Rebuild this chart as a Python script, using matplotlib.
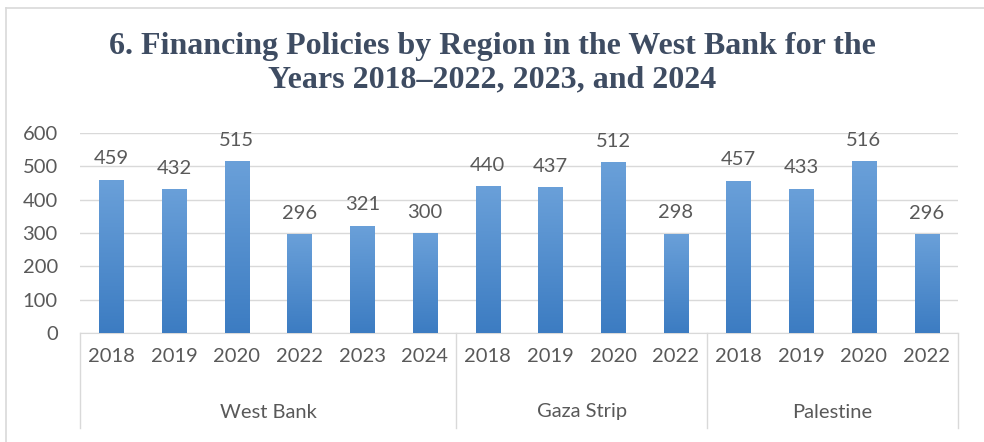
import matplotlib
matplotlib.use("Agg")
import matplotlib.pyplot as plt
import matplotlib.transforms as mtransforms
from matplotlib.lines import Line2D
from matplotlib.colors import LinearSegmentedColormap
import numpy as np

# ---- data ----
regions = ["West Bank", "Gaza Strip", "Palestine"]
west_bank_years = ["2018", "2019", "2020", "2022", "2023", "2024"]
west_bank_values = [459, 432, 515, 296, 321, 300]
gaza_years = ["2018", "2019", "2020", "2022"]
gaza_values = [440, 437, 512, 298]
palestine_years = ["2018", "2019", "2020", "2022"]
palestine_values = [457, 433, 516, 296]
title = "6. Financing Policies by Region in the West Bank for the\nYears 2018\u20132022, 2023, and 2024"
y_ticks = [0, 100, 200, 300, 400, 500, 600]

groups = [(regions[0], west_bank_years, west_bank_values),
          (regions[1], gaza_years, gaza_values),
          (regions[2], palestine_years, palestine_values)]

years = []
values = []
group_bounds = []
for name, yrs, vals in groups:
    start = len(years)
    years += yrs
    values += vals
    group_bounds.append((name, start, len(years)))

x = np.arange(len(values))

W, H = 984, 442
fig = plt.figure(figsize=(W / 100, H / 100), dpi=100)
fig.patch.set_facecolor("white")

L, R, B, T = 80, 958, 333, 133
ax = fig.add_axes([L / W, 1 - B / H, (R - L) / W, (B - T) / H])

text_color = "#595959"
font = "Lato"
fs = 14.5

bars = ax.bar(x, values, width=0.385, color="#4a88c9", zorder=3, linewidth=0)

# gradient fill per bar
grad = np.linspace(0, 1, 256).reshape(-1, 1)
cmap = LinearSegmentedColormap.from_list("g", ["#3c7cc2", "#6aa0d9"])
for b in bars:
    x0, y0 = b.get_x(), b.get_y()
    w, h = b.get_width(), b.get_height()
    im = ax.imshow(grad, extent=[x0, x0 + w, y0, y0 + h], origin="lower",
                   cmap=cmap, aspect="auto", zorder=4)
    im.set_clip_path(b)
ax.set_xlim(-0.5, len(values) - 0.5)
ax.set_ylim(0, 600)

# data labels
for xi, v in zip(x, values):
    ax.annotate(str(v), (xi, v), xytext=(0, 9), textcoords="offset points",
                ha="center", va="bottom", fontsize=fs, color=text_color,
                family=font)

# grid
ax.set_yticks(y_ticks)
ax.yaxis.grid(True, color="#d9d9d9", linewidth=1, zorder=0)
ax.set_axisbelow(True)
for s in ["top", "right", "left"]:
    ax.spines[s].set_visible(False)
ax.spines["bottom"].set_color("#d9d9d9")
ax.tick_params(axis="y", length=0, pad=16, labelsize=fs, labelcolor=text_color)
for lbl in ax.get_yticklabels():
    lbl.set_family(font)
ax.set_xticks([])

# multi-level category axis
trans = mtransforms.blended_transform_factory(ax.transData, ax.transAxes)
sep_bottom = -(428 - B) / (B - T)
year_y = -(356 - B) / (B - T)
group_y = -(412 - B) / (B - T)
for xi, yr in zip(x, years):
    ax.text(xi, year_y, yr, transform=trans, ha="center", va="center",
            fontsize=fs, color=text_color, family=font)
bounds_x = [-0.5]
for name, s, e in group_bounds:
    ax.text((s + e - 1) / 2, group_y, name, transform=trans, ha="center",
            va="center", fontsize=fs, color=text_color, family=font)
    bounds_x.append(e - 0.5)
for bx in bounds_x:
    ax.add_line(Line2D([bx, bx], [0, sep_bottom], transform=trans,
                       color="#d9d9d9", linewidth=1, clip_on=False))

# title
fig.text(0.5, 1 - 63 / H, title, ha="center", va="center", fontsize=23,
         fontweight="bold", family="Liberation Serif", color="#3e4c62",
         linespacing=1.22)

# outer chart frame (top and left visible)
fig.add_artist(Line2D([6 / W, 1], [1 - 8 / H, 1 - 8 / H], transform=fig.transFigure,
                      color="#d9d9d9", linewidth=1.2))
fig.add_artist(Line2D([6 / W, 6 / W], [0, 1 - 8 / H], transform=fig.transFigure,
                      color="#d9d9d9", linewidth=1.2))

fig.savefig("out.png", dpi=100, facecolor="white")
